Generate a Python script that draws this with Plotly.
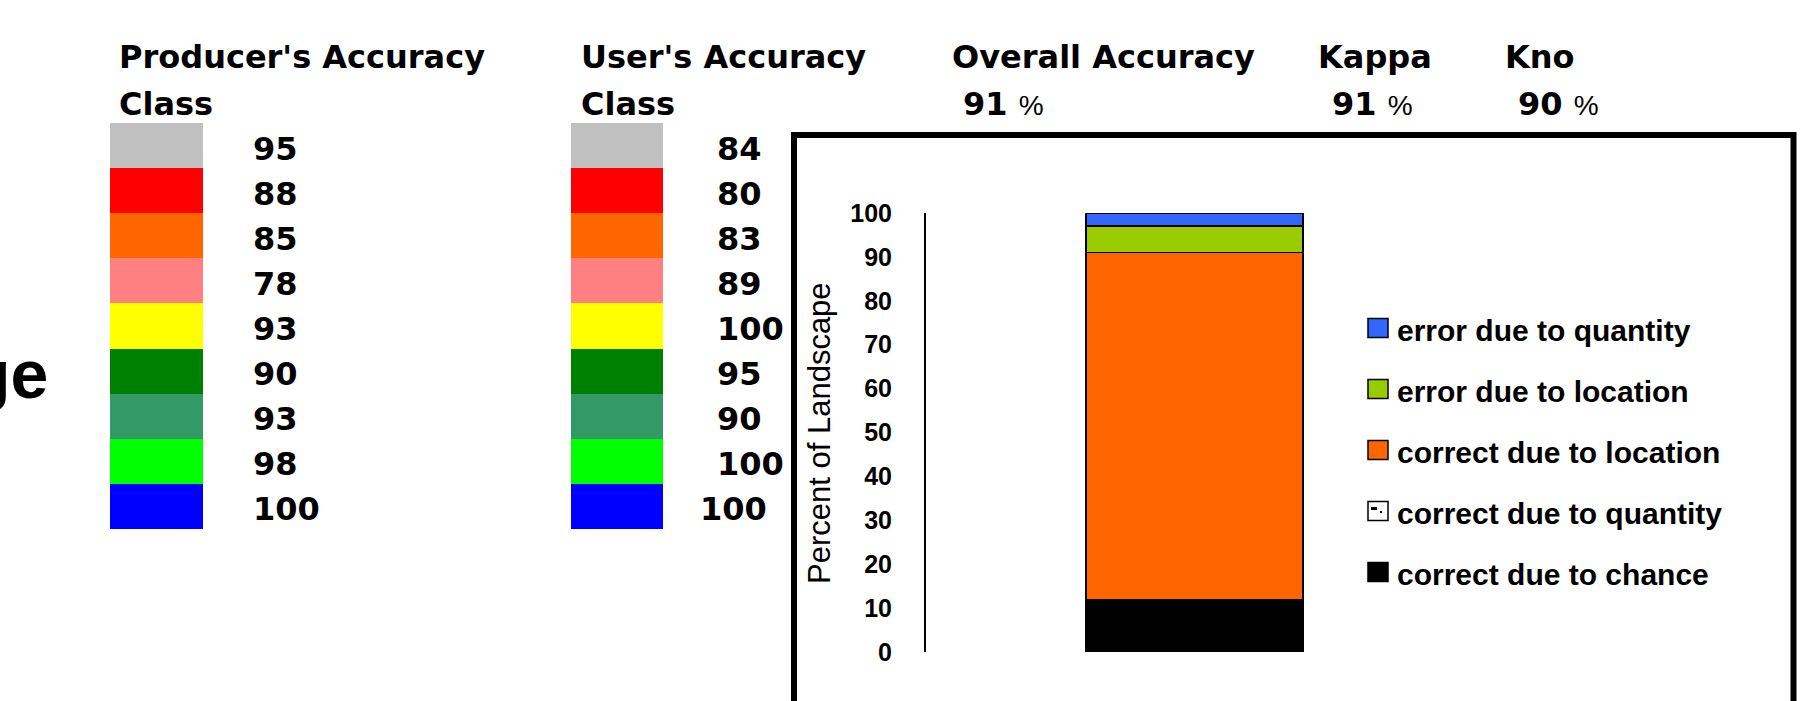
import plotly.graph_objects as go

# ---- data -------------------------------------------------------------
class_colors = ["#C0C0C0", "#FF0000", "#FF6600", "#FF8080", "#FFFF00",
                "#008000", "#339966", "#00FF00", "#0000FF"]
class_ids = list(range(len(class_colors)))
producers_accuracy = [95, 88, 85, 78, 93, 90, 93, 98, 100]
users_accuracy = [84, 80, 83, 89, 100, 95, 90, 100, 100]

overall_accuracy = 91
kappa = 91
k_no = 90

# stacked components, bottom to top
components = ["correct due to chance", "correct due to quantity",
              "correct due to location", "error due to location",
              "error due to quantity"]
component_values = [12, 0, 79, 6, 3]
component_colors = ["#000000", "#FFFFFF", "#FF6600", "#99CC00", "#3366FF"]

# ---- page geometry helpers (pixels -> paper) -------------------------
W, H = 1819, 701


def px(x):
    return x / W


def py(y):
    return 1 - y / H


HEAD_FONT = dict(family="DejaVu Sans", size=32, color="black", weight="bold")

fig = go.Figure()

# ---- main stacked bar -------------------------------------------------
for name, val, col in zip(components, component_values, component_colors):
    fig.add_trace(go.Bar(
        x=[""], y=[val], name=name, width=0.404,
        marker=dict(color=col, line=dict(color="black", width=1.5)),
        xaxis="x", yaxis="y", showlegend=False, hoverinfo="skip",
    ))

# ---- class colour columns --------------------------------------------
for ax in ("2", "3"):
    fig.add_trace(go.Bar(
        x=[1.0] * len(class_ids), y=class_ids, orientation="h",
        width=1.0, marker=dict(color=class_colors, line=dict(width=0)),
        xaxis="x" + ax, yaxis="y" + ax, showlegend=False, hoverinfo="skip",
    ))

annotations = []

# accuracy numbers beside each swatch (the last user's value sits a bit further left)
for ax, vals, xpos in (("2", producers_accuracy, 1.52), ("3", users_accuracy, 1.57)):
    for cid, v in zip(class_ids, vals):
        nudge = -17 if (ax == "3" and cid == class_ids[-1]) else 0
        annotations.append(dict(
            x=xpos, y=cid, xref="x" + ax, yref="y" + ax, text=str(v),
            showarrow=False, xanchor="left", yanchor="middle", yshift=-3,
            xshift=nudge, font=HEAD_FONT,
        ))

# column headers
pct = ("<span style='font-family:Liberation Sans Narrow, Liberation Sans;"
       "font-weight:normal;font-size:28px'>%</span>")
headers = [
    ("Producer's Accuracy", 117, 57),
    ("Class", 117, 104),
    ("User's Accuracy", 579, 57),
    ("Class", 579, 104),
    ("Overall Accuracy", 950, 57),
    ("Kappa", 1316, 57),
    ("Kno", 1503, 57),
    (f"{overall_accuracy} " + pct, 961, 104),
    (f"{kappa} " + pct, 1330, 104),
    (f"{k_no} " + pct, 1516, 104),
]
for text, x, y in headers:
    annotations.append(dict(
        x=px(x), y=py(y), xref="paper", yref="paper", text=text,
        showarrow=False, xanchor="left", yanchor="middle", font=HEAD_FONT,
    ))

# partial slide title at the far left
annotations.append(dict(
    x=px(50), y=py(374), xref="paper", yref="paper", text="ge",
    showarrow=False, xanchor="right", yanchor="middle",
    font=dict(family="Liberation Sans", size=68, color="black", weight="bold"),
))

# y axis title
annotations.append(dict(
    x=px(819), y=py(433), xref="paper", yref="paper",
    text="Percent of Landscape", textangle=-90, showarrow=False,
    xanchor="center", yanchor="middle",
    font=dict(family="Liberation Sans", size=31, color="black"),
))

# ---- legend (top item = top of stack) ---------------------------------
shapes = []
legend_rows = [328, 389, 450, 511, 572]
for row_y, name, col in zip(legend_rows, components[::-1], component_colors[::-1]):
    shapes.append(dict(
        type="rect", xref="paper", yref="paper",
        x0=px(1368), x1=px(1388), y0=py(row_y + 9.5), y1=py(row_y - 9.5),
        fillcolor=col, line=dict(color="black", width=1.5),
    ))
    if col == "#FFFFFF":
        shapes.append(dict(
            type="rect", xref="paper", yref="paper",
            x0=px(1371), x1=px(1377), y0=py(row_y - 1), y1=py(row_y - 4),
            fillcolor="black", line=dict(width=0),
        ))
        shapes.append(dict(
            type="rect", xref="paper", yref="paper",
            x0=px(1380), x1=px(1382), y0=py(row_y + 2), y1=py(row_y),
            fillcolor="black", line=dict(width=0),
        ))
    annotations.append(dict(
        x=px(1395), y=py(row_y + 2), xref="paper", yref="paper", text=name,
        showarrow=False, xanchor="left", yanchor="middle",
        font=dict(family="Liberation Sans", size=30, color="black", weight="bold"),
    ))

# chart frame
shapes.append(dict(
    type="rect", xref="paper", yref="paper",
    x0=px(794), x1=px(1793.5), y0=-0.05, y1=py(135),
    line=dict(color="black", width=6), fillcolor="rgba(0,0,0,0)", layer="below",
))

hidden = dict(visible=False, automargin=False, fixedrange=True)

fig.update_layout(
    width=W, height=H,
    margin=dict(l=0, r=0, t=0, b=0, pad=0, autoexpand=False),
    paper_bgcolor="white", plot_bgcolor="rgba(0,0,0,0)",
    barmode="stack", showlegend=False,
    annotations=annotations, shapes=shapes,
    xaxis=dict(domain=[px(926), px(1463)], range=[-0.5, 0.5], type="category", **hidden),
    yaxis=dict(domain=[py(652), py(213)], range=[0, 100], tickvals=list(range(0, 101, 10)),
               showgrid=False, zeroline=False, showline=True, linecolor="black", linewidth=2,
               ticks="", ticklabelstandoff=27, automargin=False, fixedrange=True,
               tickfont=dict(family="Liberation Sans", size=25, color="black", weight="bold")),
    xaxis2=dict(domain=[px(110), px(330)], range=[0, 220 / 93], **hidden),
    yaxis2=dict(domain=[py(529), py(123)], range=[len(class_ids) - 0.5, -0.5],
                anchor="x2", **hidden),
    xaxis3=dict(domain=[px(571), px(791)], range=[0, 220 / 92], **hidden),
    yaxis3=dict(domain=[py(529), py(123)], range=[len(class_ids) - 0.5, -0.5],
                anchor="x3", **hidden),
)

fig.write_html("out.html")
